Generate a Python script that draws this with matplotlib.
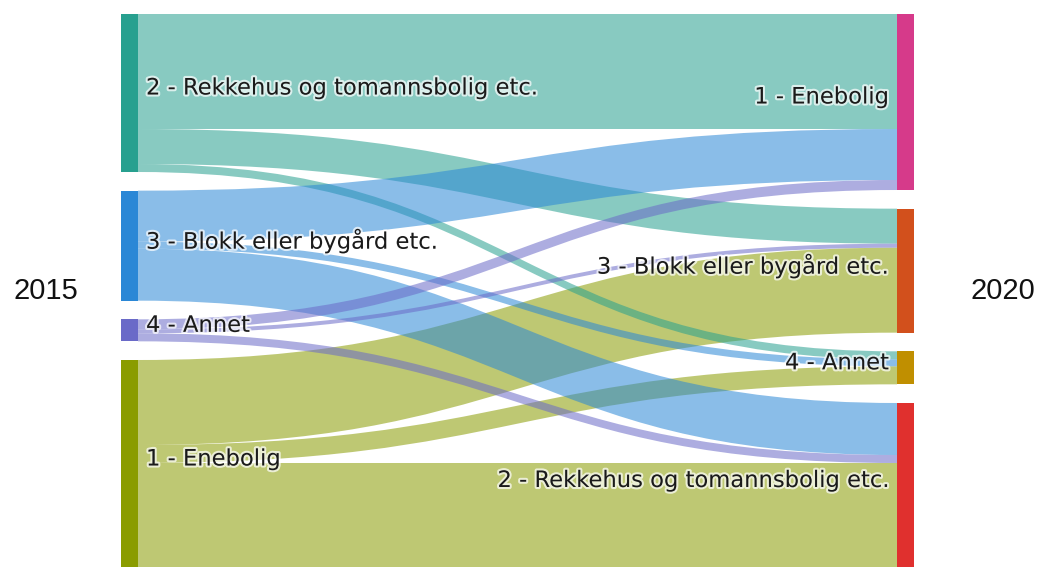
import matplotlib
matplotlib.use("Agg")
import matplotlib.pyplot as plt
import matplotlib.patheffects as pe
from matplotlib.path import Path
from matplotlib.patches import PathPatch, Rectangle

# Nodes (top to bottom as drawn)
left_labels = ["2 - Rekkehus og tomannsbolig etc.", "3 - Blokk eller bygård etc.", "4 - Annet", "1 - Enebolig"]
right_labels = ["1 - Enebolig", "3 - Blokk eller bygård etc.", "4 - Annet", "2 - Rekkehus og tomannsbolig etc."]
left_colors = ["#27a08f", "#2a87d6", "#6a6ac8", "#8a9c00"]
right_colors = ["#d63a8a", "#d2501c", "#c08f00", "#e0302e"]

# Links: 2015 node index -> 2020 node index
link_source = [0, 0, 0, 1, 1, 1, 2, 2, 2, 3, 3, 3]
link_target = [0, 1, 2, 0, 2, 3, 0, 1, 3, 1, 2, 3]
link_value = [115, 35, 8, 51, 7, 52, 10, 4, 8, 85, 18, 105]
# draw order of the source nodes (by category number: 1, 2, 3, 4)
draw_order = [3, 0, 1, 2]

W, H = 1039, 567
top, bottom = 14, 568
x_left, x_right, node_w = 121, 897, 17

fig = plt.figure(figsize=(W / 100, H / 100), dpi=100)
ax = fig.add_axes([0, 0, 1, 1])
ax.set_xlim(0, W)
ax.set_ylim(H, 0)
ax.axis("off")


def layout(n, idx):
    sums = [0] * n
    for i, v in zip(idx, link_value):
        sums[i] += v
    gap = (bottom - top - sum(sums)) / (n - 1)
    y0, pos = top, []
    for s in sums:
        pos.append((y0, y0 + s))
        y0 += s + gap
    return pos


left_pos = layout(4, link_source)
right_pos = layout(4, link_target)

# stack links at each node: ordered by the y of the other end
src_off = {}
for s in range(4):
    y = left_pos[s][0]
    for k in sorted([k for k in range(len(link_value)) if link_source[k] == s],
                    key=lambda k: link_target[k]):
        src_off[k] = y
        y += link_value[k]
tgt_off = {}
for t in range(4):
    y = right_pos[t][0]
    for k in sorted([k for k in range(len(link_value)) if link_target[k] == t],
                    key=lambda k: link_source[k]):
        tgt_off[k] = y
        y += link_value[k]

x0, x1 = x_left + node_w, x_right
xm = (x0 + x1) / 2
links = sorted(range(len(link_value)), key=lambda k: draw_order.index(link_source[k]))
for z, k in enumerate(links):
    v = link_value[k]
    a, b = src_off[k], tgt_off[k]
    verts = [(x0, a), (xm, a), (xm, b), (x1, b),
             (x1, b + v), (xm, b + v), (xm, a + v), (x0, a + v), (x0, a)]
    codes = [Path.MOVETO, Path.CURVE4, Path.CURVE4, Path.CURVE4,
             Path.LINETO, Path.CURVE4, Path.CURVE4, Path.CURVE4, Path.CLOSEPOLY]
    ax.add_patch(PathPatch(Path(verts, codes), facecolor=left_colors[link_source[k]],
                           edgecolor="none", alpha=0.55, zorder=1 + z * 0.01))

halo = [pe.withStroke(linewidth=3, foreground="white", alpha=0.7)]
for (y0, y1), c, lab in zip(left_pos, left_colors, left_labels):
    ax.add_patch(Rectangle((x_left, y0), node_w, y1 - y0, facecolor=c, edgecolor="none", zorder=2))
    ax.text(x_left + node_w + 8, (y0 + y1) / 2 - 5, lab, ha="left", va="center",
            fontsize=16.3, color="#1a1a1a", path_effects=halo, zorder=3)
for (y0, y1), c, lab in zip(right_pos, right_colors, right_labels):
    ax.add_patch(Rectangle((x_right, y0), node_w, y1 - y0, facecolor=c, edgecolor="none", zorder=2))
    ax.text(x_right - 8, (y0 + y1) / 2 - 5, lab, ha="right", va="center",
            fontsize=16.3, color="#1a1a1a", path_effects=halo, zorder=3)

ax.text(46, 291, "2015", ha="center", va="center", fontsize=21,
        family="Liberation Sans", color="#111111")
ax.text(1003, 291, "2020", ha="center", va="center", fontsize=21,
        family="Liberation Sans", color="#111111")

fig.savefig("out.png", dpi=100)
